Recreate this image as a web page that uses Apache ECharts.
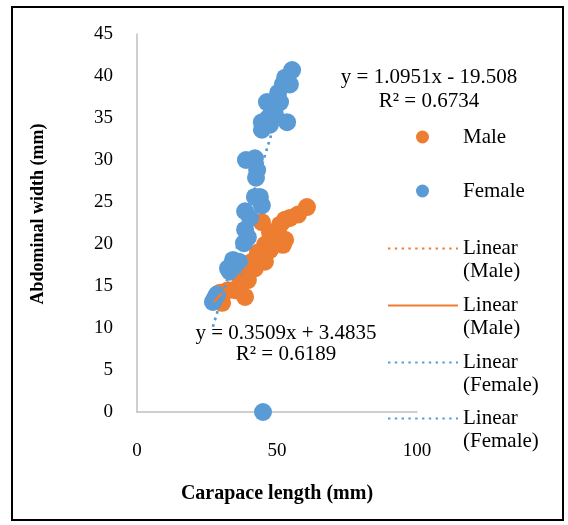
<!DOCTYPE html>
<html>
<head>
<meta charset="utf-8">
<script src="https://cdn.jsdelivr.net/npm/echarts@6/dist/echarts.min.js"></script>
<style>
html,body{margin:0;padding:0;background:#fff;}
#c{width:568px;height:525px;}
</style>
</head>
<body>
<div id="c"></div>
<script>
// Carapace length (mm) vs Abdominal width (mm)
const maleData = [
  [60.7,24.4],[57.5,23.5],[54.6,23.1],[52.9,22.9],[44.6,22.6],[51.1,22.3],
  [47.5,21.4],[52.9,20.5],[49.3,20.7],[45.7,19.9],[52.1,19.9],[43.2,19.0],
  [47.5,19.3],[43.9,18.3],[41.1,17.9],[45.7,17.9],[40.4,16.9],[42.1,17.1],
  [36.8,16.3],[39.6,15.7],[36.8,15.1],[35.0,14.5],[38.6,13.7],[30.4,13.0],
  [29.6,14.2],[32.5,14.5]
];
const femaleData = [
  [55.4,40.7],[52.9,39.8],[52.1,39.0],[54.6,39.0],[50.4,38.0],[46.4,36.9],
  [51.1,36.9],[48.2,36.0],[49.3,35.4],[46.8,35.0],[44.6,34.5],[53.6,34.5],
  [44.6,33.6],[47.5,34.2],[38.9,30.0],[42.1,30.2],[42.9,28.8],[42.5,27.9],
  [42.1,25.6],[43.9,25.6],[44.6,24.6],[38.6,23.9],[40.4,23.1],[38.6,21.7],
  [39.6,20.8],[38.2,20.1],[36.4,17.9],[35.4,17.1],[33.2,16.7],[34.3,18.1],
  [32.5,17.1],[27.9,13.6],[28.6,14.0],[27.1,13.1],[45.0,0.0]
];
// trendline endpoints (y = 0.3509x + 3.4835 ; y = 1.0951x - 19.508)
const maleTrend = [[27.5,13.13],[60.7,24.78]];
const femaleTrend = [[27.1,10.17],[55.4,41.16]];
const xTicks = [0, 50, 100];
const yTicks = [0, 5, 10, 15, 20, 25, 30, 35, 40, 45];
const maleEq = ['y = 0.3509x + 3.4835', 'R² = 0.6189'];
const femaleEq = ['y = 1.0951x - 19.508', 'R² = 0.6734'];

const ORANGE = '#ED7D31', BLUE = '#5B9BD5';
const SERIF = '"Liberation Serif","Times New Roman",serif';
const dots = [2.4, 4.4];

const chart = echarts.init(document.getElementById('c'));

function lineLegend(name, top) {
  return {
    data: [name], left: 387, top: top, orient: 'vertical', padding: 0,
    itemWidth: 70, itemHeight: 14, itemGap: 0, itemStyle: {opacity: 0},
    selectedMode: false,
    formatter: n => '\n' + n.trim().replace(' (', '\n('),
    textStyle: {fontFamily: SERIF, fontSize: 21, color: '#000', lineHeight: 23}
  };
}
function dotLegend(name, top) {
  return {
    data: [name], left: 416, top: top, orient: 'vertical', padding: 0,
    itemWidth: 13, itemHeight: 13, itemGap: 0,
    selectedMode: false, icon: 'circle',
    textStyle: {fontFamily: SERIF, fontSize: 21, color: '#000', lineHeight: 22, padding: [0, 0, 0, 29]}
  };
}

chart.setOption({
  animation: false,
  backgroundColor: '#fff',
  grid: {left: 137, top: 34, width: 280, height: 378, containLabel: false},
  xAxis: {
    type: 'value', min: 0, max: 100, interval: 50,
    name: 'Carapace length (mm)', nameLocation: 'middle', nameGap: 72,
    nameTextStyle: {fontFamily: SERIF, fontSize: 20, fontWeight: 'bold', color: '#000'},
    axisLine: {show: true, onZero: false, lineStyle: {color: '#BFBFBF', width: 1.5}},
    axisTick: {show: false}, splitLine: {show: false},
    axisLabel: {margin: 30, fontFamily: SERIF, fontSize: 19, color: '#000',
      formatter: v => xTicks.includes(v) ? String(v) : ''}
  },
  yAxis: {
    type: 'value', min: 0, max: 45, interval: 5,
    name: 'Abdominal width (mm)', nameLocation: 'middle', nameGap: 90,
    nameTextStyle: {fontFamily: SERIF, fontSize: 18, fontWeight: 'bold', color: '#000', padding: [0, 0, 0, 18]},
    axisLine: {show: true, lineStyle: {color: '#BFBFBF', width: 1.5}},
    axisTick: {show: false}, splitLine: {show: false},
    axisLabel: {margin: 24, fontFamily: SERIF, fontSize: 19, color: '#000',
      formatter: v => yTicks.includes(v) ? String(v) : ''}
  },
  legend: [
    dotLegend('Male', 126),
    dotLegend('Female', 180),
    lineLegend('Linear (Male)', 214),
    lineLegend('Linear (Male) ', 271),
    lineLegend('Linear (Female)', 328),
    lineLegend('Linear (Female) ', 384)
  ],
  series: [
    {name: 'Male', type: 'scatter', data: maleData, symbolSize: 18,
     itemStyle: {color: ORANGE, opacity: 1}, z: 2},
    {name: 'Female', type: 'scatter', data: femaleData, symbolSize: 18,
     itemStyle: {color: BLUE, opacity: 1}, z: 3},
    {name: 'Linear (Male)', type: 'line', data: maleTrend, symbol: 'none', z: 4,
     itemStyle: {color: ORANGE}, lineStyle: {color: ORANGE, width: 2.4, type: dots}},
    {name: 'Linear (Male) ', type: 'line', data: maleTrend, symbol: 'none', z: 4,
     itemStyle: {color: ORANGE}, lineStyle: {color: ORANGE, width: 2.4, type: 'solid'}},
    {name: 'Linear (Female)', type: 'line', data: femaleTrend, symbol: 'none', z: 4,
     itemStyle: {color: BLUE}, lineStyle: {color: BLUE, width: 2.4, type: dots}},
    {name: 'Linear (Female) ', type: 'line', data: femaleTrend, symbol: 'none', z: 4,
     itemStyle: {color: BLUE}, lineStyle: {color: BLUE, width: 2.4, type: dots}}
  ],
  graphic: [
    {type: 'rect', shape: {x: 12, y: 7, width: 551, height: 513},
     style: {fill: 'none', stroke: '#000', lineWidth: 2}, z: 100},
    {type: 'text', x: 429, y: 77, z: 100,
     style: {text: femaleEq[0], font: '21px ' + SERIF, fill: '#000', align: 'center', verticalAlign: 'middle'}},
    {type: 'text', x: 429, y: 101, z: 100,
     style: {text: femaleEq[1], font: '21px ' + SERIF, fill: '#000', align: 'center', verticalAlign: 'middle'}},
    {type: 'text', x: 286, y: 333, z: 100,
     style: {text: maleEq[0], font: '21px ' + SERIF, fill: '#000', align: 'center', verticalAlign: 'middle'}},
    {type: 'text', x: 286, y: 354, z: 100,
     style: {text: maleEq[1], font: '21px ' + SERIF, fill: '#000', align: 'center', verticalAlign: 'middle'}}
  ]
});
</script>
</body>
</html>
